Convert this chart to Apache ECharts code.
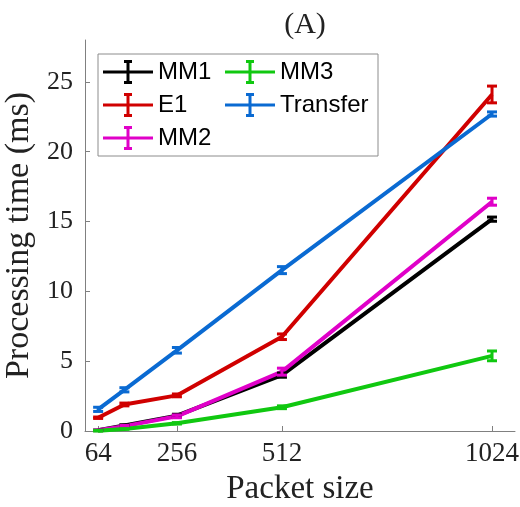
<!DOCTYPE html>
<html>
<head>
<meta charset="utf-8">
<script src="https://cdn.jsdelivr.net/npm/echarts@6/dist/echarts.min.js"></script>
<style>
    html, body { margin: 0; padding: 0; background: #fff; }
    #chart { width: 520px; height: 507px; }
</style>
</head>
<body>
<div id="chart"></div>
<script>
// 数据
const packetSizes = [64, 128, 256, 512, 1024];
const xTicks = [64, 256, 512, 1024];

const mm1 = [0.05, 0.4, 1.1, 4.0, 15.17];
const e1 = [0.95, 1.9, 2.55, 6.75, 24.1];
const mm2 = [0.05, 0.35, 1.05, 4.25, 16.42];
const mm3 = [0.02, 0.15, 0.55, 1.7, 5.38];
const transfer = [1.55, 2.95, 5.78, 11.52, 22.7];

const mm1Err = [0.02, 0.05, 0.1, 0.15, 0.15];
const e1Err = [0.05, 0.1, 0.1, 0.2, 0.6];
const mm2Err = [0.02, 0.05, 0.1, 0.25, 0.25];
const mm3Err = [0.02, 0.02, 0.05, 0.1, 0.35];
const transferErr = [0.15, 0.15, 0.2, 0.25, 0.15];

const seriesDefs = [
    { name: 'MM1', values: mm1, err: mm1Err, color: '#000000' },
    { name: 'E1', values: e1, err: e1Err, color: '#d00000' },
    { name: 'MM2', values: mm2, err: mm2Err, color: '#e000c8' },
    { name: 'MM3', values: mm3, err: mm3Err, color: '#10c810' },
    { name: 'Transfer', values: transfer, err: transferErr, color: '#0a6ad2' }
];

// 图例图标: 横线 + 误差棒
const errIcon = 'path://M0,10.5h50v3h-50z M23.5,1h3v22h-3z M21,0h8v3h-8z M21,21h8v3h-8z';

const serif = '"Liberation Serif", "DejaVu Serif", serif';
const sans = '"Liberation Sans", Arial, sans-serif';

const chart = echarts.init(document.getElementById('chart'));

const series = [];
seriesDefs.forEach(s => {
    series.push({
        name: s.name,
        type: 'line',
        symbol: 'none',
        lineStyle: { width: 4, color: s.color },
        itemStyle: { color: s.color },
        data: packetSizes.map((x, i) => [x, s.values[i]]),
        z: 3
    });
    series.push({
        name: s.name + ' err',
        type: 'custom',
        z: 4,
        data: packetSizes.map((x, i) => [x, s.values[i] - s.err[i], s.values[i] + s.err[i]]),
        renderItem: (params, api) => {
            const lo = api.coord([api.value(0), api.value(1)]);
            const hi = api.coord([api.value(0), api.value(2)]);
            const hw = 5;
            const style = { stroke: s.color, lineWidth: 3 };
            return {
                type: 'group',
                children: [
                    { type: 'line', shape: { x1: lo[0], y1: lo[1], x2: hi[0], y2: hi[1] }, style },
                    { type: 'line', shape: { x1: lo[0] - hw, y1: lo[1], x2: lo[0] + hw, y2: lo[1] }, style },
                    { type: 'line', shape: { x1: hi[0] - hw, y1: hi[1], x2: hi[0] + hw, y2: hi[1] }, style }
                ]
            };
        }
    });
});

const legendBase = {
    orient: 'vertical',
    padding: 0,
    top: 60,
    itemWidth: 50,
    itemHeight: 24,
    itemGap: 9,
    icon: errIcon,
    selectedMode: false,
    textStyle: { fontFamily: sans, fontSize: 24, color: '#000' }
};

const option = {
    backgroundColor: '#fff',
    animation: false,
    title: {
        text: '(A)',
        left: 300,
        top: 5,
        textAlign: 'center',
        textStyle: { fontFamily: serif, fontSize: 30, fontWeight: 'normal', color: '#222' }
    },
    grid: { left: 85, right: 5, top: 40, bottom: 76, outerBoundsMode: 'none', containLabel: false },
    graphic: [{
        type: 'rect',
        shape: { x: 98, y: 54, width: 280, height: 102 },
        style: { fill: '#fff', stroke: '#8c8c8c', lineWidth: 1 },
        z: 1
    }],
    legend: [
        Object.assign({}, legendBase, { left: 103, data: ['MM1', 'E1', 'MM2'] }),
        Object.assign({}, legendBase, { left: 225, data: ['MM3', 'Transfer'] })
    ],
    xAxis: {
        type: 'value',
        min: 32,
        max: 1080,
        name: 'Packet size',
        nameLocation: 'middle',
        nameGap: 42,
        nameTextStyle: { fontFamily: serif, fontSize: 33, color: '#222' },
        axisLine: { show: true, lineStyle: { color: '#808080', width: 1 } },
        axisTick: { show: true, inside: true, length: 5, customValues: xTicks, lineStyle: { color: '#808080' } },
        axisLabel: {
            customValues: xTicks,
            margin: 9,
            fontFamily: serif,
            fontSize: 27,
            color: '#222',
            hideOverlap: false,
            formatter: v => String(v)
        },
        splitLine: { show: false }
    },
    yAxis: {
        type: 'value',
        min: 0,
        max: 28,
        interval: 5,
        name: 'Processing time (ms)',
        nameLocation: 'middle',
        nameGap: 44,
        nameTextStyle: { fontFamily: serif, fontSize: 34, color: '#222' },
        axisLine: { show: true, lineStyle: { color: '#808080', width: 1 } },
        axisTick: { show: true, inside: true, length: 5, lineStyle: { color: '#808080' } },
        axisLabel: { margin: 12, fontFamily: serif, fontSize: 26, color: '#222', showMaxLabel: false },
        splitLine: { show: false }
    },
    series: series
};

chart.setOption(option);

window.addEventListener('resize', () => {
    chart && chart.resize();
});
</script>
</body>
</html>
